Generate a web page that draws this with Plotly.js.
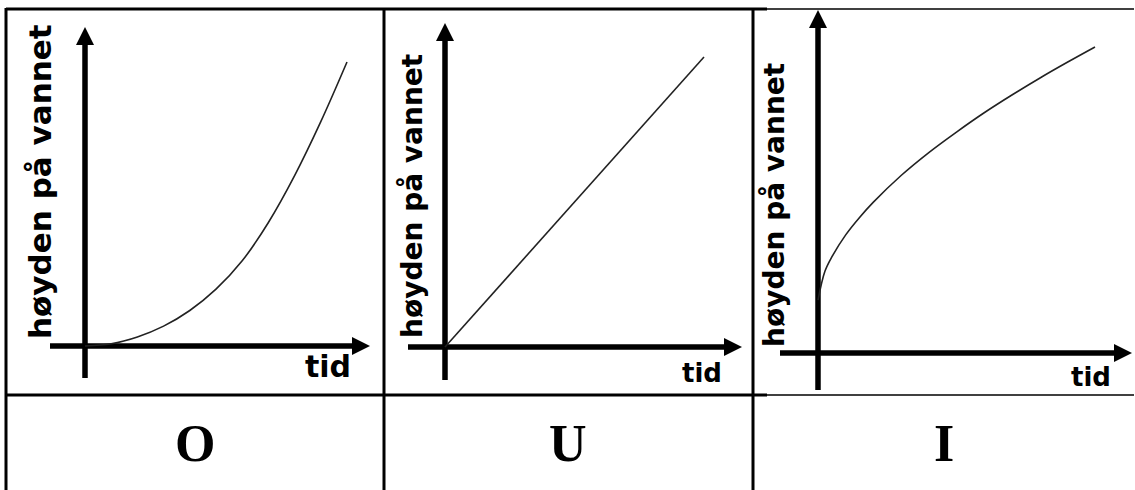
<!DOCTYPE html>
<html><head><meta charset="utf-8">
<script src="https://cdn.plot.ly/plotly-3.0.1.min.js"></script>
<style>html,body{margin:0;padding:0;background:#fff}#chart{width:1135px;height:490px}</style>
</head><body><div id="chart"></div>
<script>
// ---- data ----
const panelLetters = ['O', 'U', 'I'];
const yLabel = 'høyden på vannet';
const xLabel = 'tid';

const timeO = [0, 1, 2, 3, 4, 5, 6, 7, 8, 9, 10];
const heightO = [0, 0.08, 0.32, 0.7, 1.25, 2.0, 3.0, 4.35, 6.0, 7.9, 10];

const timeU = [0, 10];
const heightU = [0, 10];

const timeI = [0, 0.25, 0.5, 1, 1.5, 2, 3, 4, 5, 6, 7, 8, 9, 10];
const heightI = [1.73, 2.67, 3.14, 3.86, 4.43, 4.93, 5.8, 6.55, 7.22, 7.85, 8.43, 8.98, 9.5, 10];

const series = [[timeO, heightO], [timeU, heightU], [timeI, heightI]];

// ---- layout geometry (pixels) ----
const W = 1135, H = 490;
const panels = [
  {cell: [8, 383, 11, 393], origin: [85, 346], unit: [26.2, 28.4], xEnd: [50, 370], yEnd: [378, 27],
   ylab: [40, 182, 31], xlab: [328, 366, 30], letter: 195},
  {cell: [386, 751, 11, 393], origin: [445, 347], unit: [25.9, 29.0], xEnd: [408, 742], yEnd: [380, 23],
   ylab: [412, 196, 28], xlab: [702, 373, 26], letter: 568},
  {cell: [755, 1135, 0, 393], origin: [818, 353], unit: [27.7, 30.6], xEnd: [780, 1132], yEnd: [390, 10],
   ylab: [774, 205, 28], xlab: [1091, 377, 26], letter: 944}
];

const X = px => px / W, Y = py => 1 - py / H;
const traces = [], annotations = [], shapes = [];
const layout = {
  width: W, height: H, margin: {l: 0, r: 0, t: 0, b: 0},
  paper_bgcolor: '#fff', plot_bgcolor: 'rgba(0,0,0,0)', showlegend: false,
  annotations, shapes
};

panels.forEach((p, i) => {
  const n = i === 0 ? '' : String(i + 1);
  const [L, R, T, B] = p.cell, [ox, oy] = p.origin, [sx, sy] = p.unit;
  layout['xaxis' + n] = {domain: [X(L), X(R)], range: [(L - ox) / sx, (R - ox) / sx], visible: false, fixedrange: true};
  layout['yaxis' + n] = {domain: [Y(B), Y(T)], range: [(oy - B) / sy, (oy - T) / sy], visible: false, fixedrange: true};
  const xa = 'x' + n, ya = 'y' + n;
  const xs = (p.xEnd[0] - ox) / sx, xe = (p.xEnd[1] - ox) / sx;
  const ys = (oy - p.yEnd[0]) / sy, ye = (oy - p.yEnd[1]) / sy;
  const back = 10;
  // axis lines
  traces.push({x: [xs, xe - back / sx], y: [0, 0], xaxis: xa, yaxis: ya, mode: 'lines',
    line: {color: '#000', width: 5.5}, hoverinfo: 'skip'});
  traces.push({x: [0, 0], y: [ys, ye - back / sy], xaxis: xa, yaxis: ya, mode: 'lines',
    line: {color: '#000', width: 5.5}, hoverinfo: 'skip'});
  // arrow heads
  traces.push({x: [xe, 0], y: [0, ye], xaxis: xa, yaxis: ya, mode: 'markers',
    marker: {symbol: ['arrow-right', 'arrow-up'], size: 18, color: '#000', line: {width: 0}}, hoverinfo: 'skip'});
  // curve
  traces.push({x: series[i][0], y: series[i][1], xaxis: xa, yaxis: ya, mode: 'lines',
    line: {color: '#222', width: 1.6, shape: 'spline', smoothing: 1}, hoverinfo: 'skip'});
  // labels
  annotations.push({text: yLabel, xref: 'paper', yref: 'paper', x: X(p.ylab[0]), y: Y(p.ylab[1]),
    xanchor: 'center', yanchor: 'middle', textangle: -90, showarrow: false,
    font: {family: 'DejaVu Sans', size: p.ylab[2], weight: 'bold', color: '#000'}});
  annotations.push({text: xLabel, xref: 'paper', yref: 'paper', x: X(p.xlab[0]), y: Y(p.xlab[1]),
    xanchor: 'center', yanchor: 'middle', showarrow: false,
    font: {family: 'DejaVu Sans', size: p.xlab[2], weight: 'bold', color: '#000'}});
  annotations.push({text: panelLetters[i], xref: 'paper', yref: 'paper', x: X(p.letter), y: Y(443),
    xanchor: 'center', yanchor: 'middle', showarrow: false,
    font: {family: 'Liberation Serif', size: 52, weight: 'bold', color: '#000'}});
});

// table borders
const ln = (x0, y0, x1, y1, w) => shapes.push({type: 'line', xref: 'paper', yref: 'paper',
  x0: X(x0), y0: Y(y0), x1: X(x1), y1: Y(y1), line: {color: '#000', width: w}});
ln(6, 9, 767, 9, 3); ln(767, 9, 1134, 9, 1.5);
ln(6, 395, 767, 395, 3); ln(767, 395, 1134, 395, 1.5);
ln(6, 8, 6, 490, 3); ln(384, 8, 384, 490, 3); ln(753, 8, 753, 490, 3);

Plotly.newPlot('chart', traces, layout, {displayModeBar: false, staticPlot: true});
</script></body></html>
